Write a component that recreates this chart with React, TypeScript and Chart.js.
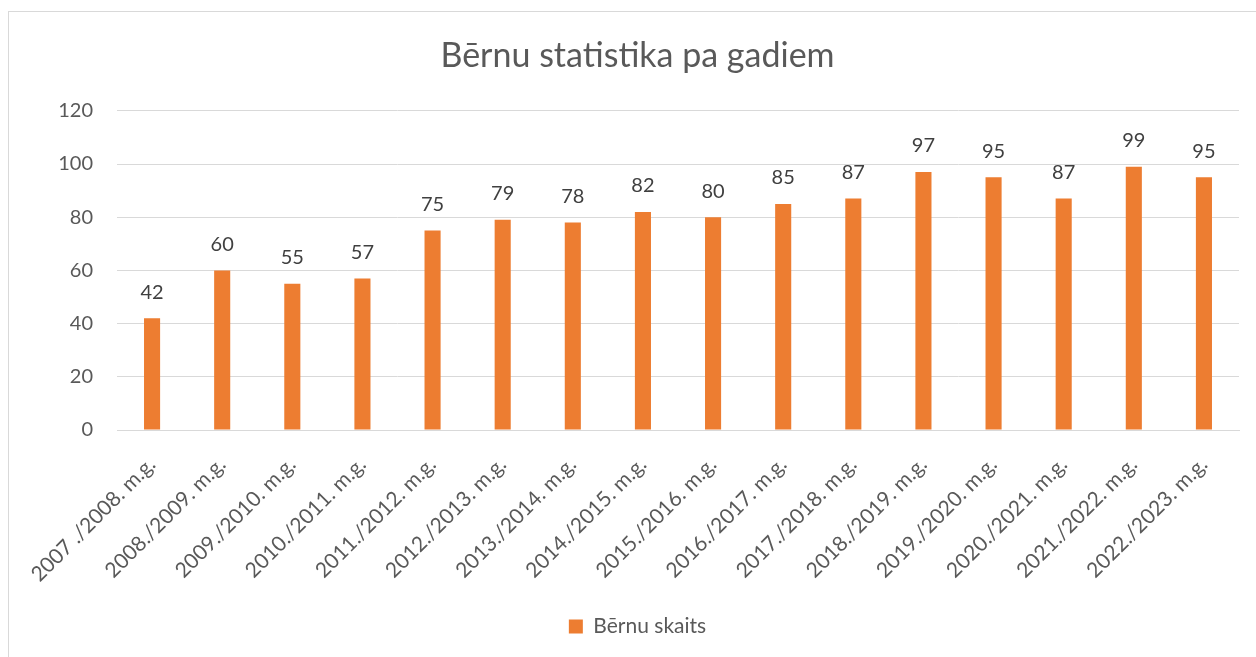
import React, { useEffect, useRef } from "react";
import { Chart, registerables } from "chart.js";

Chart.register(...registerables);

const categories = [
  "2007 ./2008. m.g.",
  "2008./2009. m.g.",
  "2009./2010. m.g.",
  "2010./2011. m.g.",
  "2011./2012. m.g.",
  "2012./2013. m.g.",
  "2013./2014. m.g.",
  "2014./2015. m.g.",
  "2015./2016. m.g.",
  "2016./2017. m.g.",
  "2017./2018. m.g.",
  "2018./2019. m.g.",
  "2019./2020. m.g.",
  "2020./2021. m.g.",
  "2021./2022. m.g.",
  "2022./2023. m.g.",
];
const childCounts = [42, 60, 55, 57, 75, 79, 78, 82, 80, 85, 87, 97, 95, 87, 99, 95];
const seriesName = "Bērnu skaits";
const chartTitle = "Bērnu statistika pa gadiem";

const FONT = "Lato, 'Open Sans', sans-serif";

const dataLabelPlugin = {
  id: "dataLabels",
  afterDatasetsDraw(chart: any) {
    const ctx = chart.ctx;
    const meta = chart.getDatasetMeta(0);
    ctx.save();
    ctx.font = `20px ${FONT}`;
    ctx.fillStyle = "#404040";
    ctx.textAlign = "center";
    ctx.textBaseline = "middle";
    meta.data.forEach((bar: any, i: number) => {
      const v = chart.data.datasets[0].data[i];
      ctx.fillText(String(v), bar.x, bar.y - 26);
    });
    ctx.restore();
  },
};

export default function App() {
  const ref = useRef<HTMLCanvasElement>(null);
  useEffect(() => {
    if (!ref.current) return;
    const chart = new Chart(ref.current, {
      type: "bar",
      data: {
        labels: categories,
        datasets: [
          {
            label: seriesName,
            data: childCounts,
            backgroundColor: "#ED7D31",
            borderWidth: 0,
            barPercentage: 0.9,
            categoryPercentage: 0.255,
          },
        ],
      },
      options: {
        animation: false,
        responsive: false,
        maintainAspectRatio: false,
        layout: { padding: { left: 36, right: 17, top: 0, bottom: 10 } },
        plugins: {
          title: {
            display: true,
            text: chartTitle,
            color: "#595959",
            font: { family: FONT, size: 34, weight: "normal" },
            padding: { top: 36, bottom: 34 },
          },
          legend: {
            position: "bottom",
            labels: {
              color: "#595959",
              font: { family: FONT, size: 21 },
              boxWidth: 14,
              boxHeight: 14,
              padding: 8,
            },
          },
          tooltip: { enabled: false },
        },
        scales: {
          x: {
            grid: { display: false, drawTicks: false },
            border: { display: true, color: "#d9d9d9", width: 1 },
            ticks: {
              color: "#595959",
              font: { family: FONT, size: 21 },
              minRotation: 45,
              maxRotation: 45,
              autoSkip: false,
              padding: 22,
              labelOffset: 0,
            },
            afterFit: (scale: any) => {
              scale.height = 178;
            },
          },
          y: {
            min: 0,
            max: 120,
            grid: { color: "#d9d9d9", drawTicks: false },
            border: { display: false },
            ticks: {
              stepSize: 20,
              color: "#595959",
              font: { family: FONT, size: 20 },
              padding: 24,
            },
            afterFit: (scale: any) => {
              scale.width = 81;
            },
          },
        },
      },
      plugins: [dataLabelPlugin],
    });
    return () => chart.destroy();
  }, []);

  return (
    <div style={{ position: "fixed", left: 0, top: 0, width: 1256, height: 657, background: "#fff", overflow: "hidden" }}>
      <div
        style={{
          position: "absolute",
          left: 8,
          top: 11,
          width: 1300,
          height: 700,
          border: "1px solid #d9d9d9",
          boxSizing: "border-box",
        }}
      />
      <canvas ref={ref} width={1256} height={657} style={{ position: "absolute", left: 0, top: 0 }} />
    </div>
  );
}
